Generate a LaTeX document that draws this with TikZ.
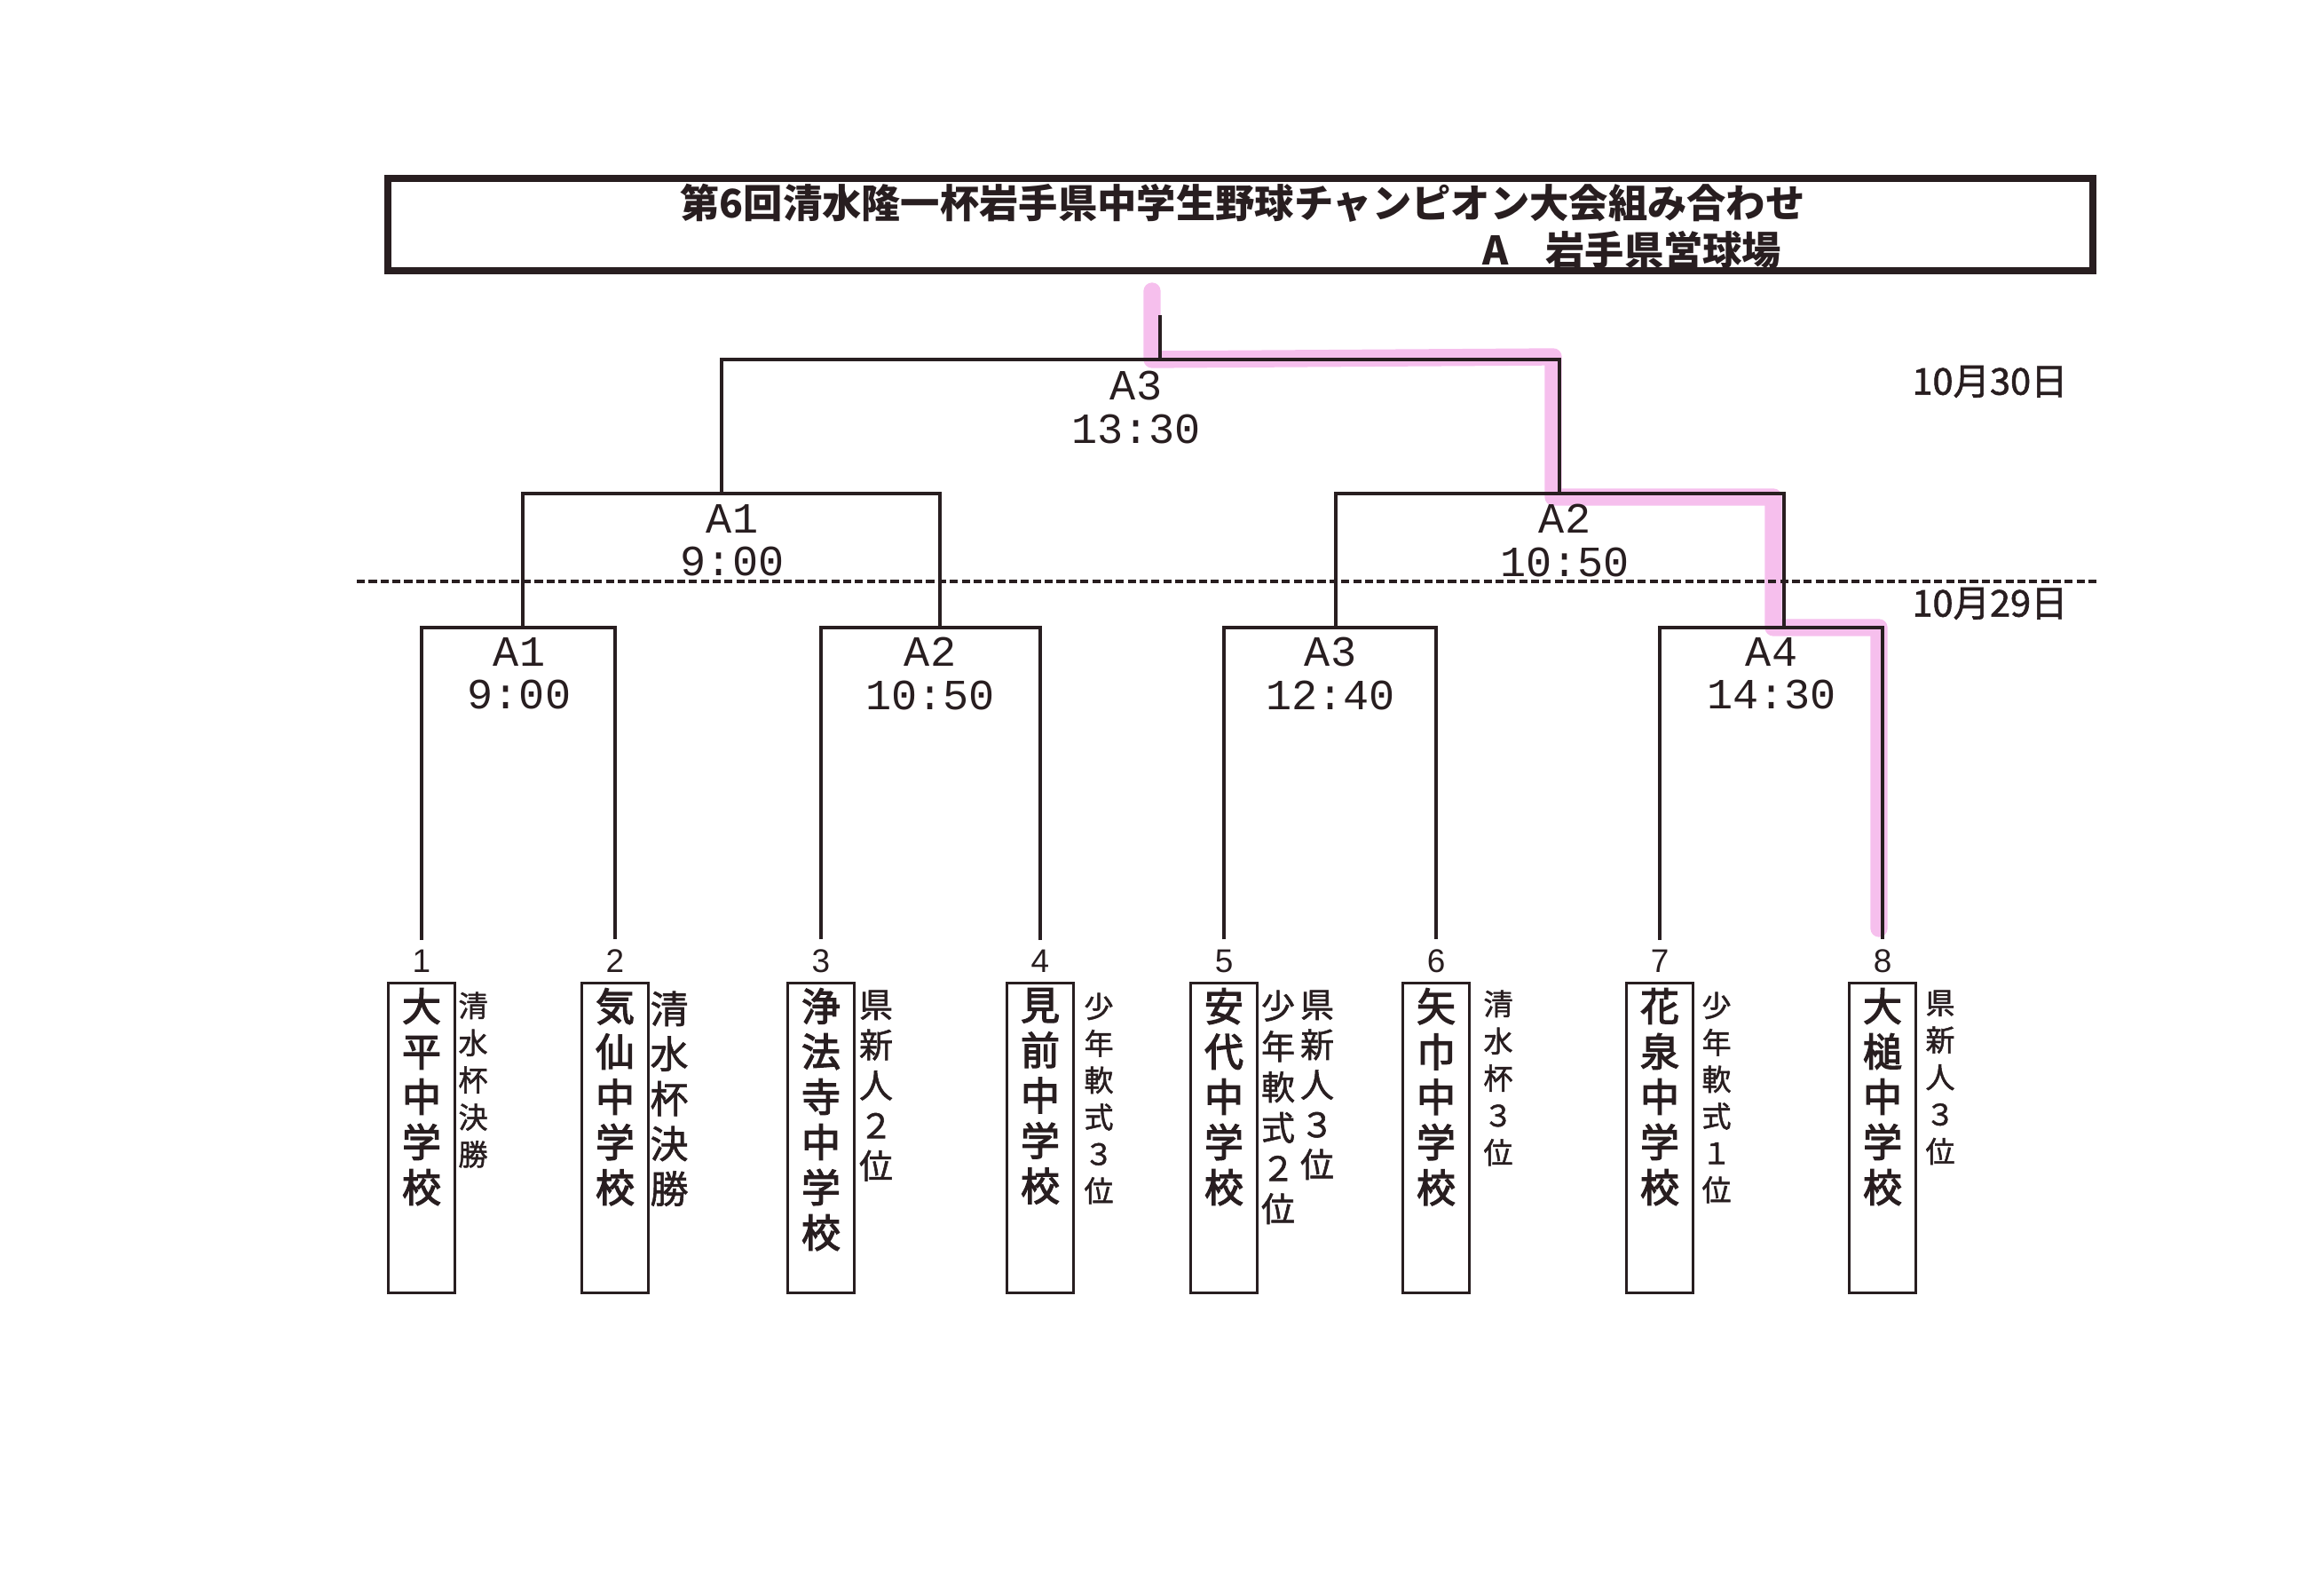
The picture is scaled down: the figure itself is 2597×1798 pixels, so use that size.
\documentclass[tikz,border=0pt]{standalone}
\usepackage{fontspec}
\setmainfont{Noto Sans CJK JP}
\newfontfamily\medfnt{Noto Sans CJK JP}[FakeBold=3]
\newfontfamily\notefnt{Noto Sans CJK JP}[FakeBold=1.5]
\newfontfamily\matchfnt{Liberation Mono}
\newfontfamily\seedfnt{Liberation Sans}
\usepackage{tikz}

\definecolor{ink}{RGB}{40,30,32}
\definecolor{marker}{RGB}{236,112,216}

\tikzset{
  bracket/.style={ink, line width=1.3pt},
  daysep/.style={ink, line width=1pt, dash pattern=on 2.6pt off 1.2pt},
  hilite/.style={marker, line width=5.5pt, opacity=0.45, line cap=round, line join=round},
  matchlbl/.style={ink, align=center, inner sep=0pt, font=\matchfnt\fontsize{13.8}{13.7}\selectfont},
  seedno/.style={ink, inner sep=0.11cm, font=\seedfnt\fontsize{10.5}{11}\selectfont},
  teambox/.style={draw=ink, line width=1pt, minimum width=0.75cm, minimum height=3.49cm, inner sep=0pt},
  teamname/.style={ink, align=center, inner sep=0pt, anchor=north, font=\medfnt\fontsize{12.5}{14.5}\selectfont},
  note/.style={ink, align=center, inner sep=0pt, anchor=north},
  daylbl/.style={ink, inner sep=0pt, font=\notefnt\fontsize{11.8}{13}\selectfont},
  titletxt/.style={ink, inner sep=0pt, font=\bfseries\fontsize{12.6}{15}\selectfont},
}

\begin{document}
\begin{tikzpicture}[x=0.01cm, y=-0.01cm]
    \useasboundingbox (0,0) rectangle (2597,1798);

    % ====================
    % Marker stroke (winner path)
    % ====================
    \draw[hilite] (1298,328) -- (1298,405) -- (1750,402) -- (1750,560)
        -- (1998,560) -- (1998,707) -- (2117,707) -- (2117,1046);

    % ====================
    % Title
    % ====================
    \draw[ink, line width=2.2pt] (437,201) rectangle (2358,305);
    \node[titletxt] (ttl1) at (1400,229) {第6回清水隆一杯岩手県中学生野球チャンピオン大会組み合わせ};
    \node[titletxt, anchor=east] (ttl2) at (2008,282) {A\hspace{0.42cm}岩手県営球場};

    % ====================
    % Teams
    % ====================
    \foreach \i/\x/\name in {1/475/{大\\平\\中\\学\\校}, 2/693/{気\\仙\\中\\学\\校},
                             3/925/{浄\\法\\寺\\中\\学\\校}, 4/1172/{見\\前\\中\\学\\校},
                             5/1379/{安\\代\\中\\学\\校}, 6/1618/{矢\\巾\\中\\学\\校},
                             7/1870/{花\\泉\\中\\学\\校}, 8/2121/{大\\槌\\中\\学\\校}} {
        \node[seedno] (no\i) at (\x,1083) {\i};
        \node[teambox] (tb\i) at (\x,1282) {};
        \node[teamname] (tm\i) at ([yshift=-0.07cm]tb\i.north) {\name};
    }

    % notes beside the teams
    \node[note, font=\notefnt\fontsize{9.4}{11.9}\selectfont] (nt1) at (533,1117) {清\\水\\杯\\決\\勝};
    \node[note, font=\notefnt\fontsize{12.2}{14.4}\selectfont] (nt2) at (754,1116) {清\\水\\杯\\決\\勝};
    \node[note, font=\notefnt\fontsize{10.8}{12.9}\selectfont] (nt3) at (987,1115) {県\\新\\人\\２\\位};
    \node[note, font=\notefnt\fontsize{9.4}{11.8}\selectfont] (nt4) at (1238,1118) {少\\年\\軟\\式\\３\\位};
    \node[note, font=\notefnt\fontsize{10.8}{12.8}\selectfont] (nt5) at (1484,1115) {県\\新\\人\\３\\位};
    \node[note, font=\notefnt\fontsize{10.8}{13}\selectfont] (nt5b) at (1440,1115) {少\\年\\軟\\式\\２\\位};
    \node[note, font=\notefnt\fontsize{9.4}{11.9}\selectfont] (nt6) at (1688,1115) {清\\水\\杯\\３\\位};
    \node[note, font=\notefnt\fontsize{9.4}{11.8}\selectfont] (nt7) at (1934,1117) {少\\年\\軟\\式\\１\\位};
    \node[note, font=\notefnt\fontsize{9.4}{11.9}\selectfont] (nt8) at (2186,1115) {県\\新\\人\\３\\位};

    % ====================
    % Bracket
    % ====================
    \coordinate (r1a) at (589,707);
    \coordinate (r1b) at (1059,707);
    \coordinate (r1c) at (1505,707);
    \coordinate (r1d) at (2010,707);
    \coordinate (r2a) at (813,556);
    \coordinate (r2b) at (1757,556);
    \coordinate (r3) at (1307,405);
    \coordinate (champ) at (1307,355);

    % first round (10/29)
    \draw[bracket] (no1.north) |- (r1a) -| (no2.north);
    \draw[bracket] (no3.north) |- (r1b) -| (no4.north);
    \draw[bracket] (no5.north) |- (r1c) -| (no6.north);
    \draw[bracket] (no7.north) |- (r1d) -| (no8.north);
    % semi-finals and final (10/30)
    \draw[bracket] (r1a) |- (r2a) -| (r1b);
    \draw[bracket] (r1c) |- (r2b) -| (r1d);
    \draw[bracket] (r2a) |- (r3) -| (r2b);
    \draw[bracket] (r3) -- (champ);

    % match labels
    \node[matchlbl] (lm1) at (585,759) {A1\\9:00};
    \node[matchlbl] (lm2) at (1048,759) {A2\\10:50};
    \node[matchlbl] (lm3) at (1499,759) {A3\\12:40};
    \node[matchlbl] (lm4) at (1996,759) {A4\\14:30};
    \node[matchlbl] (ls1) at (825,609) {A1\\9:00};
    \node[matchlbl] (ls2) at (1763,609) {A2\\10:50};
    \node[matchlbl] (lf) at (1280,459) {A3\\13:30};

    % ====================
    % Days
    % ====================
    \coordinate (dl) at (402,655);
    \coordinate (dr) at (2363,655);
    \draw[daysep] (dl) -- (dr);
    \node[daylbl] (d30) at (2242,430) {10月30日};
    \node[daylbl] (d29) at (2242,680) {10月29日};

\end{tikzpicture}
\end{document}
